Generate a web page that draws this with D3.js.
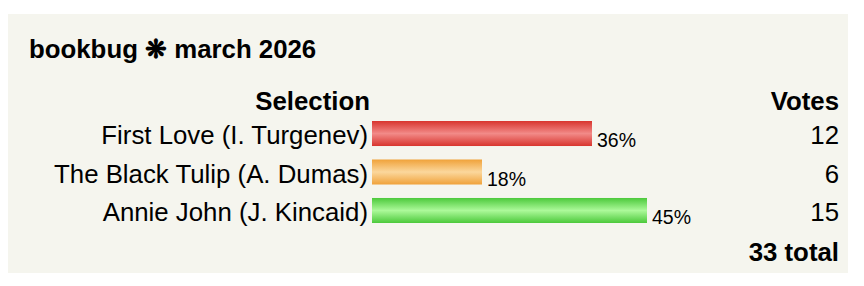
<!DOCTYPE html>
<html>
<head>
  <title>bookbug march 2026</title>
  <script src="https://d3js.org/d3.v7.min.js"></script>
  <style>
    body { margin: 0; background: #fff; }
    text { font-family: "Liberation Sans", Arial, Helvetica, sans-serif; fill: #000; }
  </style>
</head>
<body>
  <div id="chart"></div>
  <script>
    // poll data
    const title = "bookbug \u274B march 2026";
    const selections = ["First Love (I. Turgenev)", "The Black Tulip (A. Dumas)", "Annie John (J. Kincaid)"];
    const votes = [12, 6, 15];
    const barColors = [["#d8352e", "#f28a88"], ["#f0a23a", "#fbd79c"], ["#4cc93b", "#acf99a"]];

    const total = d3.sum(votes);
    const rows = selections.map((s, i) => ({ name: s, votes: votes[i], pct: votes[i] / total * 100, colors: barColors[i] }));

    const width = 864, height = 286;
    const svg = d3.select("#chart").append("svg")
      .attr("width", width)
      .attr("height", height);

    // panel background
    svg.append("rect")
      .attr("x", 8).attr("y", 14)
      .attr("width", 840).attr("height", 259)
      .attr("fill", "#f5f5ee");

    svg.append("text")
      .attr("x", 29).attr("y", 58)
      .style("font-size", "25.8px").style("font-weight", "bold")
      .text(title);

    const barStart = 372;
    const x = d3.scaleLinear().domain([0, 100]).range([0, 605]);
    const y = d3.scaleBand().domain(d3.range(rows.length)).range([121, 223]).paddingInner(0.35).paddingOuter(0);

    // gradients
    const defs = svg.append("defs");
    rows.forEach((d, i) => {
      const g = defs.append("linearGradient").attr("id", "grad" + i)
        .attr("x1", 0).attr("y1", 0).attr("x2", 0).attr("y2", 1);
      g.append("stop").attr("offset", "0%").attr("stop-color", d.colors[0]);
      g.append("stop").attr("offset", "50%").attr("stop-color", d.colors[1]);
      g.append("stop").attr("offset", "100%").attr("stop-color", d.colors[0]);
    });

    // headers
    svg.append("text")
      .attr("x", 370).attr("y", 110)
      .attr("text-anchor", "end")
      .style("font-size", "25.8px").style("font-weight", "bold")
      .text("Selection");
    svg.append("text")
      .attr("x", 839).attr("y", 110)
      .attr("text-anchor", "end")
      .style("font-size", "25.8px").style("font-weight", "bold")
      .text("Votes");

    const row = svg.selectAll(".row")
      .data(rows)
      .enter()
      .append("g")
      .attr("class", "row");

    row.append("text")
      .attr("x", 368)
      .attr("y", (d, i) => y(i) + y.bandwidth() - 2)
      .attr("text-anchor", "end")
      .style("font-size", "25.8px")
      .text(d => d.name);

    row.append("rect")
      .attr("x", barStart)
      .attr("y", (d, i) => y(i))
      .attr("width", d => x(d.pct))
      .attr("height", y.bandwidth())
      .attr("fill", (d, i) => "url(#grad" + i + ")");

    row.append("text")
      .attr("x", d => barStart + x(d.pct) + 5)
      .attr("y", (d, i) => y(i) + y.bandwidth() + 1)
      .style("font-size", "19.5px")
      .text(d => Math.round(d.pct) + "%");

    row.append("text")
      .attr("x", 839)
      .attr("y", (d, i) => y(i) + y.bandwidth() - 2)
      .attr("text-anchor", "end")
      .style("font-size", "25.8px")
      .text(d => d.votes);

    svg.append("text")
      .attr("x", 839).attr("y", 261)
      .attr("text-anchor", "end")
      .style("font-size", "25.8px").style("font-weight", "bold")
      .text(total + " total");
  </script>
</body>
</html>
